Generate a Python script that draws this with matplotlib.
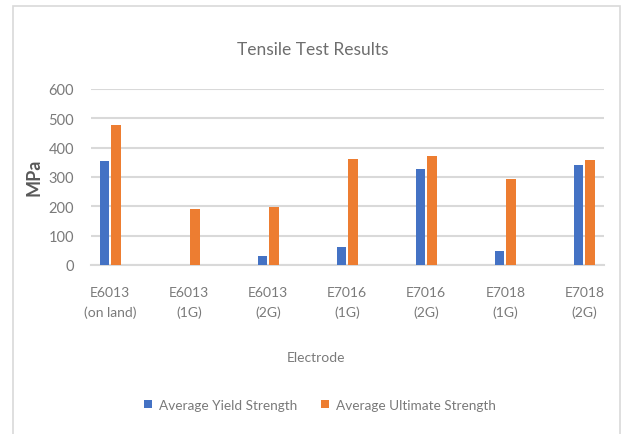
import matplotlib
matplotlib.use("Agg")
import matplotlib.pyplot as plt
import numpy as np
from matplotlib.patches import Rectangle

plt.rcParams['font.family'] = ['Lato', 'DejaVu Sans']

categories = ["E6013\n(on land)", "E6013\n(1G)", "E6013\n(2G)", "E7016\n(1G)",
              "E7016\n(2G)", "E7018\n(1G)", "E7018\n(2G)"]
yield_strength = [353, 0, 32, 60, 328, 49, 342]
ultimate_strength = [477, 191, 198, 361, 373, 292, 357]
yticks = [0, 100, 200, 300, 400, 500, 600]

W, H = 621, 435
fig = plt.figure(figsize=(W / 100, H / 100), dpi=100)

def fx(px):
    return px / W

def fy(py):
    return 1 - py / H

# outer chart-area border
fig.patches.append(Rectangle((fx(13), fy(440)), fx(620) - fx(13), fy(7) - fy(440),
                             transform=fig.transFigure, fill=False,
                             edgecolor='#d9d9d9', linewidth=1.2))

ax = fig.add_axes([fx(90.7), fy(266), fx(604.3) - fx(90.7), fy(90) - fy(266)])

x = np.arange(len(categories))
bw = 0.118
off = 0.071
blue = '#4472C4'
orange = '#ED7D31'
ax.bar(x - off, yield_strength, bw, color=blue, label='Average Yield Strength', zorder=3)
ax.bar(x + off, ultimate_strength, bw, color=orange, label='Average Ultimate Strength', zorder=3)

ax.set_xlim(-0.248, 6.253)
ax.set_ylim(0, 600)
ax.set_yticks(yticks)
ax.set_yticklabels([str(v) for v in yticks])
ax.yaxis.grid(True, color='#d9d9d9', linewidth=1.5, zorder=0)
for s in ['top', 'right', 'left']:
    ax.spines[s].set_visible(False)
ax.spines['bottom'].set_color('#d9d9d9')
ax.spines['bottom'].set_linewidth(1.5)
ax.tick_params(axis='y', length=0, pad=12, labelsize=10.5, labelcolor='#7a7a7a')
ax.tick_params(axis='x', length=0, pad=15)
ax.set_xticks(x)
ax.set_xticklabels(categories, fontsize=10, color='#7a7a7a', linespacing=1.7)

fig.text(fx(312.5), fy(50), 'Tensile Test Results', ha='center', va='center',
         fontsize=12.5, color='#6e6e6e')
fig.text(fx(316.5), fy(358), 'Electrode', ha='center', va='center',
         fontsize=10, color='#7a7a7a')
fig.text(fx(34), fy(177), 'MPa', ha='center', va='center', rotation=90,
         fontsize=13, color='#595959', fontweight='bold')

leg = fig.legend(loc='center', bbox_to_anchor=(fx(320), fy(406)), ncol=2, frameon=False,
                 fontsize=9.8, handlelength=0.55, handleheight=0.55, handletextpad=0.5,
                 columnspacing=1.8, labelcolor='#7a7a7a')

fig.savefig('out.png', dpi=100, facecolor='white')
